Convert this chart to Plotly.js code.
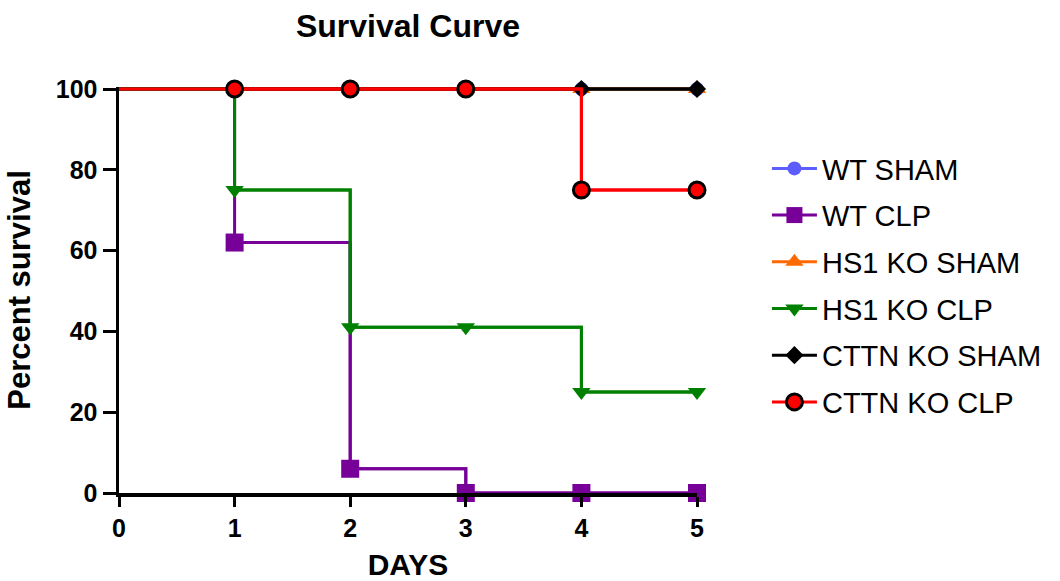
<!DOCTYPE html>
<html>
<head>
<meta charset="utf-8">
<script src="https://cdn.plot.ly/plotly-3.0.1.min.js"></script>
<style>html,body{margin:0;padding:0;background:#fff;}#chart{width:1060px;height:581px;}</style>
</head>
<body>
<div id="chart"></div>
<script>
const days = [0, 1, 2, 3, 4, 5];
const seriesNames = ["WT SHAM", "WT CLP", "HS1 KO SHAM", "HS1 KO CLP", "CTTN KO SHAM", "CTTN KO CLP"];
const wtSham = [100, 100, 100, 100, 100, 100];
const wtClp = [100, 62, 6, 0, 0, 0];
const hs1Sham = [100, 100, 100, 100, 100, 100];
const hs1Clp = [100, 75, 41, 41, 25, 25];
const cttnSham = [100, 100, 100, 100, 100, 100];
const cttnClp = [100, 100, 100, 100, 75, 75];
const xTicks = [0, 1, 2, 3, 4, 5];
const yTicks = [0, 20, 40, 60, 80, 100];

const styles = [
  {color: "#5c5cff", symbol: "circle", size: 14, lc: "#5c5cff", lw: 0},
  {color: "#770099", symbol: "square", size: 18, lc: "#770099", lw: 0},
  {color: "#ff6a00", symbol: "triangle-up", size: 16, lc: "#ff6a00", lw: 0},
  {color: "#008000", symbol: "triangle-down", size: 16, lc: "#008000", lw: 0},
  {color: "#000000", symbol: "diamond", size: 14, lc: "#000000", lw: 0},
  {color: "#ff0000", symbol: "circle", size: 16, lc: "#000000", lw: 3}
];
const values = [wtSham, wtClp, hs1Sham, hs1Clp, cttnSham, cttnClp];

const traces = [];
values.forEach((vals, i) => {
  const s = styles[i];
  traces.push({
    x: days, y: vals, type: "scatter", mode: "lines",
    line: {shape: "hv", color: s.color, width: 3},
    showlegend: false, legendgroup: "g" + i, hoverinfo: "skip", cliponaxis: false
  });
  traces.push({
    x: days.slice(1), y: vals.slice(1), type: "scatter", mode: "lines+markers",
    name: seriesNames[i], legendgroup: "g" + i,
    line: {shape: "hv", color: s.color, width: 3},
    marker: {symbol: s.symbol, size: s.size, color: s.color, line: {color: s.lc, width: s.lw}},
    cliponaxis: false
  });
});

const fontFam = "Liberation Sans, Arial, sans-serif";
const layout = {
  width: 1060, height: 581,
  paper_bgcolor: "#fff", plot_bgcolor: "#fff",
  margin: {l: 119, r: 363, t: 87, b: 88},
  font: {family: fontFam, color: "#000"},
  title: {text: "Survival Curve", x: 0.5, xref: "paper", xanchor: "center", y: 0.955, yref: "container", yanchor: "middle",
          font: {family: fontFam, size: 32, weight: "bold", color: "#000"}},
  xaxis: {
    range: [0, 5], tickvals: xTicks, ticktext: xTicks.map(String),
    showgrid: false, zeroline: false, showline: true, linecolor: "#000", linewidth: 3.5,
    ticks: "outside", ticklen: 10, tickwidth: 3, tickcolor: "#000",
    tickfont: {family: fontFam, size: 25, weight: "bold", color: "#000"},
    title: {text: "DAYS", standoff: 14, font: {family: fontFam, size: 30, weight: "bold", color: "#000"}}
  },
  yaxis: {
    range: [0, 100.5], tickvals: yTicks, ticktext: yTicks.map(String),
    showgrid: false, zeroline: false, showline: true, linecolor: "#000", linewidth: 3.5,
    ticks: "outside", ticklen: 13, tickwidth: 3, tickcolor: "#000",
    tickfont: {family: fontFam, size: 25, weight: "bold", color: "#000"},
    title: {text: "Percent survival", standoff: 17, font: {family: fontFam, size: 31, weight: "bold", color: "#000"}}
  },
  legend: {x: 1.121, xanchor: "left", y: 0.862, yanchor: "top", tracegroupgap: 6,
           font: {family: fontFam, size: 29, color: "#000"}, bgcolor: "rgba(0,0,0,0)", itemwidth: 45},
  showlegend: true
};

Plotly.newPlot("chart", traces, layout, {displayModeBar: false, staticPlot: true});
</script>
</body>
</html>
